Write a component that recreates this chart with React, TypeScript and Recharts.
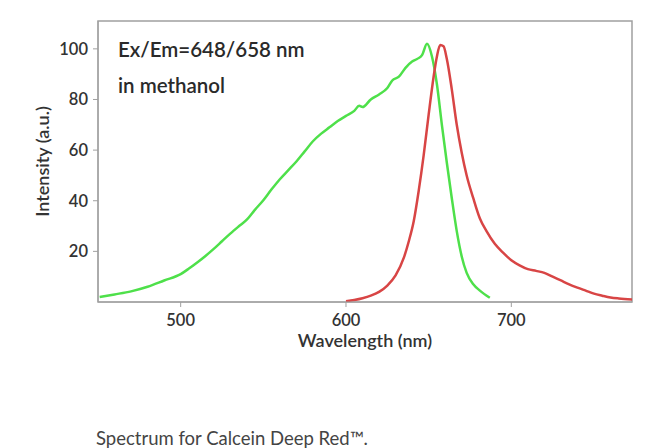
import React from 'react';
import { LineChart, Line, XAxis, YAxis, ReferenceArea } from 'recharts';

// Excitation spectrum (green)
const exWavelength = [
  451, 460, 470, 480, 490, 500, 505, 510, 515, 520, 525, 530, 535, 540, 545, 550, 555, 560, 565, 570,
  575, 580, 585, 590, 595, 600, 605, 608, 610, 615, 620, 625, 628, 632, 636, 640, 643, 646, 649, 652,
  655, 658, 661, 664, 667, 670, 673, 677, 681, 687,
];
const exIntensity = [
  2.0, 3.0, 4.2, 6.0, 8.5, 11.0, 13.2, 15.6, 18.2, 21.0, 24.0, 27.0, 29.8, 32.5, 36.5, 40.2, 44.5, 48.5, 52.0, 55.5,
  59.5, 63.5, 66.5, 69.0, 71.5, 73.5, 75.5, 77.5, 77.0, 80.0, 82.0, 84.5, 87.5, 89.0, 92.5, 95.0, 96.0, 97.5, 102.0, 97.0,
  86.0, 70.0, 55.0, 41.0, 28.0, 18.0, 11.5, 7.0, 4.5, 1.7,
];

// Emission spectrum (red)
const emWavelength = [
  600, 605, 610, 615, 620, 625, 630, 635, 638, 641, 644, 647, 650, 653, 655, 657, 659, 661, 664, 667,
  670, 673, 677, 681, 685, 690, 695, 700, 705, 710, 715, 720, 725, 730, 735, 740, 745, 750, 755, 760,
  765, 773,
];
const emIntensity = [
  0.3, 0.8, 1.5, 2.5, 4.0, 6.5, 10.5, 17.5, 24.0, 32.0, 44.0, 58.0, 74.0, 89.0, 97.0, 101.5, 101.0, 96.0, 84.0, 70.0,
  59.0, 50.0, 41.0, 33.0, 28.0, 23.0, 19.5, 16.5, 14.5, 13.0, 12.3, 11.5, 10.0, 8.5, 7.0, 5.7, 4.5, 3.3, 2.5, 1.8,
  1.4, 1.0,
];

const xTicks = [500, 600, 700];
const yTicks = [20, 40, 60, 80, 100];
const xDomain = [450, 773];
const yDomain = [0, 111];

const exData = exWavelength.map((w, i) => ({ w, v: exIntensity[i] }));
const emData = emWavelength.map((w, i) => ({ w, v: emIntensity[i] }));

const font = 'Lato, "Open Sans", sans-serif';
const axisColor = '#a0a0a0';
const textColor = '#333';
const tickStyle = { fill: textColor, fontSize: 16.5, fontFamily: font, fontWeight: 600 };
const labelStyle = { fill: textColor, fontSize: 18, fontFamily: font, fontWeight: 600 };

export default function App() {
  return (
    <div style={{ position: 'absolute', left: 0, top: 0, width: 650, height: 448, background: '#fff' }}>
      <LineChart width={650} height={448} margin={{ top: 21, right: 18, bottom: 101, left: 38 }}>
        <XAxis
          type="number"
          dataKey="w"
          domain={xDomain}
          ticks={xTicks}
          allowDataOverflow
          stroke={axisColor}
          tickSize={5}
          tickMargin={7}
          tick={tickStyle}
          height={45}
          label={{ value: 'Wavelength (nm)', position: 'insideBottom', offset: 0, ...labelStyle }}
        />
        <YAxis
          type="number"
          dataKey="v"
          domain={yDomain}
          ticks={yTicks}
          allowDataOverflow
          stroke={axisColor}
          tickSize={5}
          tickMargin={5}
          tick={tickStyle}
          width={60}
          label={{ value: 'Intensity (a.u.)', angle: -90, position: 'insideLeft', offset: 5, ...labelStyle, style: { textAnchor: 'middle' } }}
        />
        <ReferenceArea x1={xDomain[0]} x2={xDomain[1]} y1={yDomain[0]} y2={yDomain[1]} fill="none" stroke={axisColor} strokeWidth={1.5} />
        <Line data={exData} dataKey="v" type="monotone" stroke="#4ee04a" strokeWidth={2.5} dot={false} isAnimationActive={false} />
        <Line data={emData} dataKey="v" type="monotone" stroke="#d84545" strokeWidth={2.5} dot={false} isAnimationActive={false} />
      </LineChart>
      <div style={{ position: 'absolute', left: 118, top: 37, fontFamily: font, fontWeight: 600, fontSize: 20.5, color: '#2a2a2a' }}>
        Ex/Em=648/658 nm
      </div>
      <div style={{ position: 'absolute', left: 118, top: 73, fontFamily: font, fontWeight: 600, fontSize: 20.5, color: '#2a2a2a' }}>
        in methanol
      </div>
      <div style={{ position: 'absolute', left: 96, top: 427, fontFamily: font, fontSize: 18.5, color: '#444' }}>
        Spectrum for Calcein Deep Red™.
      </div>
    </div>
  );
}
